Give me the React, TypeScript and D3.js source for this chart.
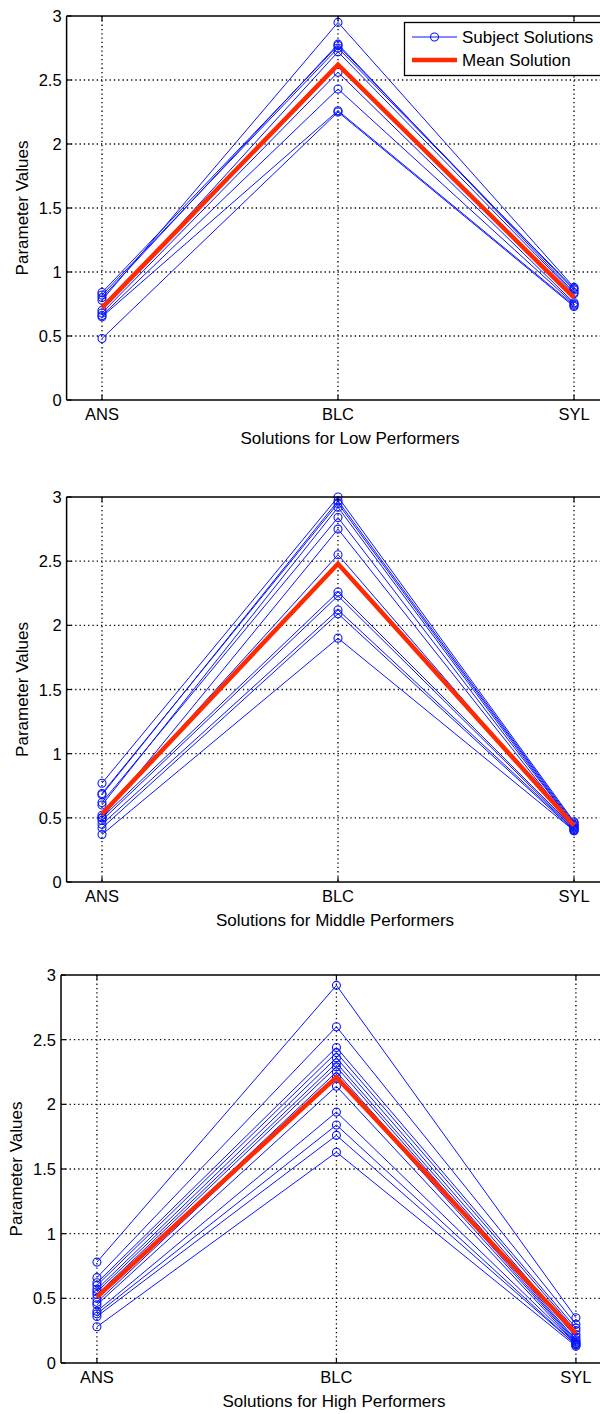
import * as d3 from "d3"

const categories = ["ANS", "BLC", "SYL"]
const yTicks = [0, 0.5, 1, 1.5, 2, 2.5, 3]

// each row: [ANS, BLC, SYL]
const lowSubjects = [
  [0.84, 2.77, 0.86],
  [0.82, 2.75, 0.87],
  [0.8, 2.78, 0.84],
  [0.78, 2.95, 0.88],
  [0.7, 2.72, 0.83],
  [0.68, 2.56, 0.76],
  [0.66, 2.43, 0.75],
  [0.65, 2.26, 0.74],
  [0.48, 2.25, 0.73],
]
const lowMean = [0.72, 2.62, 0.8]

const middleSubjects = [
  [0.77, 3.0, 0.47],
  [0.68, 2.97, 0.46],
  [0.69, 2.95, 0.45],
  [0.6, 2.92, 0.44],
  [0.62, 2.84, 0.44],
  [0.5, 2.75, 0.43],
  [0.52, 2.55, 0.42],
  [0.5, 2.26, 0.42],
  [0.48, 2.23, 0.41],
  [0.45, 2.12, 0.41],
  [0.42, 2.09, 0.4],
  [0.37, 1.9, 0.4],
]
const middleMean = [0.53, 2.48, 0.44]

const highSubjects = [
  [0.78, 2.92, 0.35],
  [0.66, 2.6, 0.3],
  [0.62, 2.44, 0.27],
  [0.6, 2.4, 0.25],
  [0.57, 2.36, 0.22],
  [0.55, 2.32, 0.2],
  [0.53, 2.29, 0.18],
  [0.5, 2.25, 0.17],
  [0.47, 2.21, 0.16],
  [0.45, 2.14, 0.15],
  [0.4, 1.94, 0.15],
  [0.38, 1.84, 0.14],
  [0.36, 1.76, 0.14],
  [0.28, 1.63, 0.13],
]
const highMean = [0.51, 2.21, 0.23]

const xLabels = ["Solutions for Low Performers", "Solutions for Middle Performers", "Solutions for High Performers"]
const legendLabels = ["Subject Solutions", "Mean Solution"]

const BLUE = "#0a14ff"
const RED = "#ff2a00"
const FONT = "'Liberation Sans', Arial, Helvetica, sans-serif"

interface PanelProps {
  subjects: number[][]
  mean: number[]
  xLabel: string
  left: number
  unit: number
  top: number
  bottom: number
  yLabelX: number
  xLabelX: number
  legend?: boolean
}

function Panel({ subjects, mean, xLabel, left, unit, top, bottom, yLabelX, xLabelX, legend }: PanelProps) {
  const x = d3.scaleLinear().domain([0.85, 3.15]).range([left, left + 2.3 * unit])
  const y = d3.scaleLinear().domain([0, 3]).range([bottom, top])
  const right = 600
  const line = d3
    .line<number>()
    .x((_, i) => x(i + 1))
    .y((d) => y(d))

  return (
    <g fontFamily={FONT}>
      {/* grid */}
      {yTicks.slice(1, -1).map((t) => (
        <line key={"gy" + t} x1={left} x2={right} y1={y(t)} y2={y(t)} stroke="#000" strokeWidth={1.3} strokeDasharray="1.3,3" />
      ))}
      {categories.map((c, i) => (
        <line key={"gx" + c} x1={x(i + 1)} x2={x(i + 1)} y1={top} y2={bottom} stroke="#000" strokeWidth={1.3} strokeDasharray="1.3,3" />
      ))}

      {/* subject solutions */}
      {subjects.map((s, k) => (
        <g key={"s" + k}>
          <path d={line(s) ?? ""} fill="none" stroke={BLUE} strokeWidth={1} />
          {s.map((v, i) => (
            <circle key={i} cx={x(i + 1)} cy={y(v)} r={4} fill="none" stroke={BLUE} strokeWidth={1.1} />
          ))}
        </g>
      ))}

      {/* mean solution */}
      <path d={line(mean) ?? ""} fill="none" stroke={RED} strokeWidth={4.5} strokeLinejoin="miter" />

      {/* axes */}
      <line x1={left} x2={right} y1={top} y2={top} stroke="#000" strokeWidth={1.5} />
      <line x1={left} x2={right} y1={bottom} y2={bottom} stroke="#000" strokeWidth={1.5} />
      <line x1={left} x2={left} y1={top} y2={bottom} stroke="#000" strokeWidth={1.5} />

      {yTicks.map((t) => (
        <g key={"ty" + t}>
          <line x1={left} x2={left + 5} y1={y(t)} y2={y(t)} stroke="#000" strokeWidth={1.2} />
          <text x={left - 5} y={y(t) + 6} textAnchor="end" fontSize={16.5} fill="#000">
            {String(t)}
          </text>
        </g>
      ))}
      {categories.map((c, i) => (
        <g key={"tx" + c}>
          <line x1={x(i + 1)} x2={x(i + 1)} y1={bottom} y2={bottom - 5} stroke="#000" strokeWidth={1.2} />
          <line x1={x(i + 1)} x2={x(i + 1)} y1={top} y2={top + 5} stroke="#000" strokeWidth={1.2} />
          <text x={x(i + 1)} y={bottom + 20} textAnchor="middle" fontSize={16.5} fill="#000">
            {c}
          </text>
        </g>
      ))}

      <text x={xLabelX} y={bottom + 44} textAnchor="middle" fontSize={17} fill="#000">
        {xLabel}
      </text>
      <text
        transform={`translate(${yLabelX},${(top + bottom) / 2}) rotate(-90)`}
        textAnchor="middle"
        fontSize={17}
        fill="#000"
      >
        Parameter Values
      </text>

      {legend && (
        <g>
          <rect x={404.5} y={22.5} width={200} height={53} fill="#fff" stroke="#000" strokeWidth={1.3} />
          <line x1={412} x2={457} y1={37} y2={37} stroke={BLUE} strokeWidth={1} />
          <circle cx={434.5} cy={37} r={4} fill="none" stroke={BLUE} strokeWidth={1.1} />
          <text x={462} y={43} fontSize={17} fill="#000">
            {legendLabels[0]}
          </text>
          <line x1={412} x2={457} y1={60} y2={60} stroke={RED} strokeWidth={4.5} />
          <text x={462} y={66} fontSize={17} fill="#000">
            {legendLabels[1]}
          </text>
        </g>
      )}
    </g>
  )
}

export default function App() {
  return (
    <svg
      width={600}
      height={1414}
      viewBox="0 0 600 1414"
      style={{ position: "absolute", left: 0, top: 0, background: "#fff" }}
    >
      <rect width={600} height={1414} fill="#fff" />
      <Panel subjects={lowSubjects} mean={lowMean} xLabel={xLabels[0]} left={66.6} unit={236} top={16} bottom={400} yLabelX={28} xLabelX={350} legend />
      <Panel subjects={middleSubjects} mean={middleMean} xLabel={xLabels[1]} left={66.6} unit={236} top={497} bottom={882} yLabelX={28} xLabelX={335} />
      <Panel subjects={highSubjects} mean={highMean} xLabel={xLabels[2]} left={61} unit={239.5} top={975} bottom={1363} yLabelX={22} xLabelX={334} />
    </svg>
  )
}
